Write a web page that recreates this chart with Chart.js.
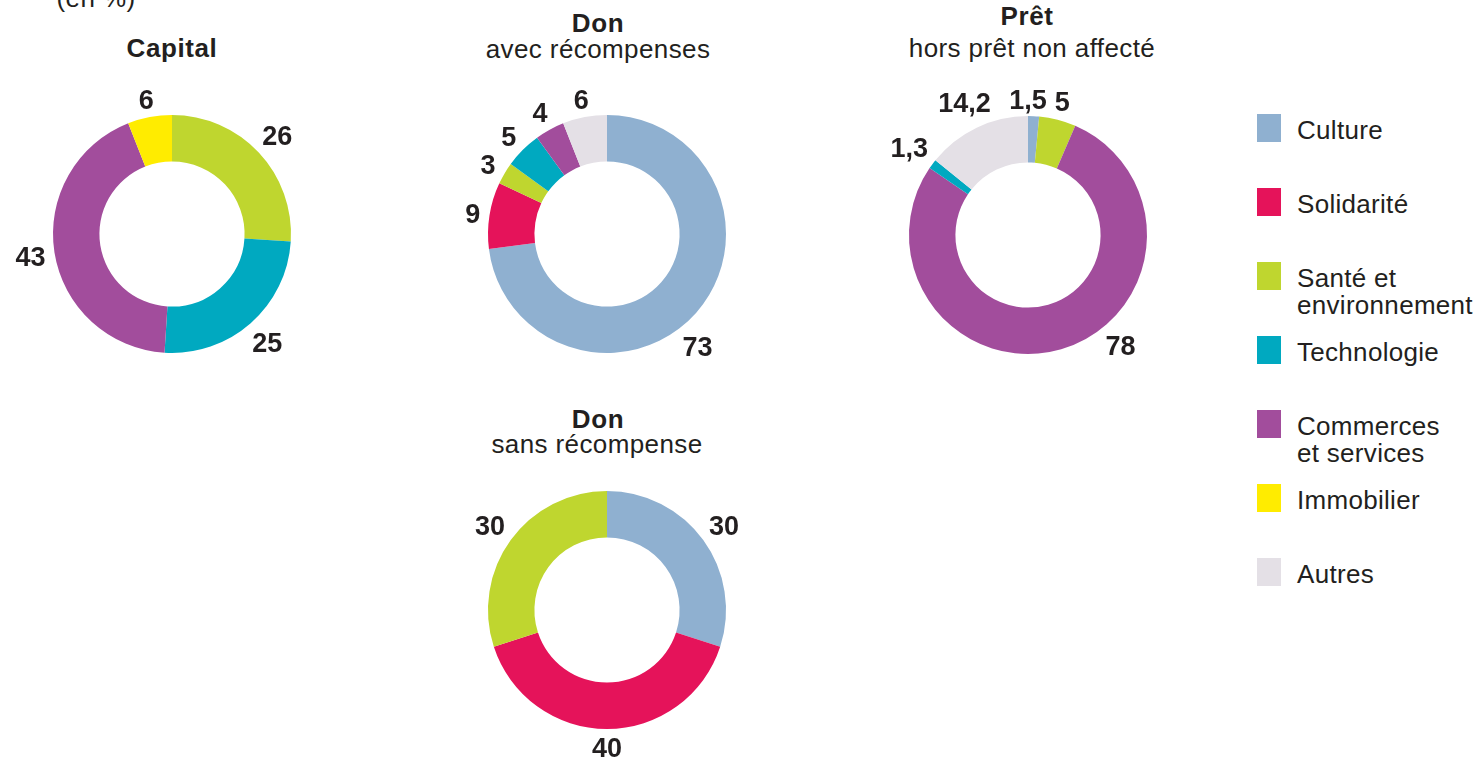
<!DOCTYPE html>
<html lang="fr">
<head>
<meta charset="utf-8">
<script src="https://cdn.jsdelivr.net/npm/chart.js@4.4.1/dist/chart.umd.min.js"></script>
<style>
html, body { margin: 0; padding: 0; background: #fff; }
body {
    width: 1476px; height: 764px; position: relative; overflow: hidden;
    font-family: "Liberation Sans", Arial, Helvetica, sans-serif; color: #231f20;
}
.box { position: absolute; width: 360px; height: 360px; }
.line { position: absolute; width: 400px; margin-left: -200px; text-align: center; font-size: 26px; letter-spacing: 0.4px; line-height: 27px; white-space: nowrap; }
.line.bold { font-weight: bold; letter-spacing: 0.6px; }
.legend-item { position: absolute; left: 1257px; }
.legend-item .sw { position: absolute; left: 0; top: 0; width: 24px; height: 28px; }
.legend-item .txt { position: absolute; left: 40px; top: 3px; font-size: 26px; letter-spacing: 0.3px; line-height: 26.5px; white-space: pre; }
</style>
</head>
<body>
<script>
// Catégories (ordre de la légende)
const categories = ['Culture', 'Solidarité', 'Santé et\nenvironnement', 'Technologie', 'Commerces\net services', 'Immobilier', 'Autres'];
const catColors = ['#8fb0d0', '#e5135a', '#bfd62f', '#00a9c0', '#a24d9c', '#ffec00', '#e4e0e6'];

// Valeurs (en %), dans l'ordre des secteurs à partir du haut, sens horaire
const capitalCats = [2, 3, 4, 5];
const capitalValues = [26, 25, 43, 6];

const donAvecCats = [0, 1, 2, 3, 4, 6];
const donAvecValues = [73, 9, 3, 5, 4, 6];

const pretCats = [0, 2, 4, 3, 6];
const pretValues = [1.5, 5, 78, 1.3, 14.2];

const donSansCats = [0, 1, 2];
const donSansValues = [30, 40, 30];

// Titres
const titleLines = [
    { text: '(en %)', bold: false, x: 96, top: -15 },
    { text: 'Capital', bold: true, x: 172, top: 35 },
    { text: 'Don', bold: true, x: 598, top: 10 },
    { text: 'avec récompenses', bold: false, x: 598, top: 36 },
    { text: 'Prêt', bold: true, x: 1027, top: 3 },
    { text: 'hors prêt non affecté', bold: false, x: 1032, top: 35 },
    { text: 'Don', bold: true, x: 598, top: 406 },
    { text: 'sans récompense', bold: false, x: 597, top: 431 }
];

titleLines.forEach(t => {
    const d = document.createElement('div');
    d.className = 'line' + (t.bold ? ' bold' : '');
    d.style.left = t.x + 'px';
    d.style.top = t.top + 'px';
    d.textContent = t.text;
    document.body.appendChild(d);
});

// Légende
categories.forEach((c, i) => {
    const item = document.createElement('div');
    item.className = 'legend-item';
    item.style.top = (114 + i * 74) + 'px';
    item.innerHTML = '<div class="sw" style="background:' + catColors[i] + '"></div><div class="txt"></div>';
    item.querySelector('.txt').textContent = c;
    document.body.appendChild(item);
});

// Étiquettes de valeurs autour de l'anneau
const valueLabels = {
    id: 'valueLabels',
    afterDatasetsDraw(chart, args, opts) {
        const ctx = chart.ctx;
        const meta = chart.getDatasetMeta(0);
        const values = chart.data.datasets[0].data;
        const fixed = opts.angles || {};
        ctx.save();
        ctx.font = 'bold 27px "Liberation Sans", Arial, sans-serif';
        ctx.fillStyle = '#231f20';
        ctx.textAlign = 'center';
        ctx.textBaseline = 'alphabetic';
        meta.data.forEach((arc, i) => {
            let mid = (arc.startAngle + arc.endAngle) / 2;
            // certains libellés sont déplacés dans l'original
            if (fixed[i] !== undefined) mid = (fixed[i] - 90) * Math.PI / 180;
            const dx = Math.cos(mid), dy = Math.sin(mid);
            const txt = String(values[i]).replace('.', ',');
            const w = ctx.measureText(txt).width, h = 19;
            const r = arc.outerRadius + 8 + Math.abs(dx) * w / 2 + Math.abs(dy) * h / 2;
            ctx.fillText(txt, arc.x + dx * r, arc.y + dy * r + 10);
        });
        ctx.restore();
    }
};

function makeDonut(cx, cy, cats, values, angles) {
    const box = document.createElement('div');
    box.className = 'box';
    box.style.left = (cx - 180) + 'px';
    box.style.top = (cy - 180) + 'px';
    const cv = document.createElement('canvas');
    cv.width = 360; cv.height = 360;
    box.appendChild(cv);
    document.body.appendChild(box);

    new Chart(cv, {
        type: 'doughnut',
        data: {
            labels: cats.map(i => categories[i].replace('\n', ' ')),
            datasets: [{
                data: values,
                backgroundColor: cats.map(i => catColors[i]),
                borderWidth: 0,
                hoverOffset: 0
            }]
        },
        options: {
            responsive: false,
            animation: false,
            events: [],
            cutout: '61%',
            layout: { padding: 61 },
            plugins: {
                legend: { display: false },
                tooltip: { enabled: false },
                valueLabels: { angles: angles }
            }
        },
        plugins: [valueLabels]
    });
}

makeDonut(172, 234, capitalCats, capitalValues);
makeDonut(607, 234, donAvecCats, donAvecValues, { 0: 141 });
makeDonut(1028, 235, pretCats, pretValues, { 0: 0, 2: 140 });
makeDonut(607, 610, donSansCats, donSansValues);
</script>
</body>
</html>
